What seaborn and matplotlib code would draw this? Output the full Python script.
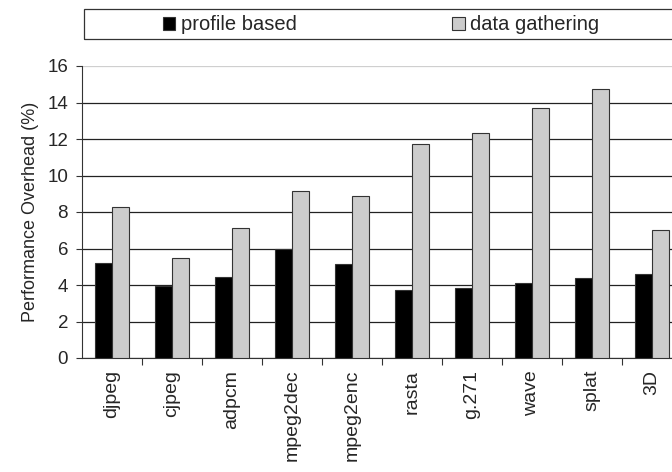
import matplotlib
matplotlib.use("Agg")
import matplotlib.pyplot as plt
import seaborn as sns
import pandas as pd
from matplotlib.patches import Rectangle
from matplotlib.ticker import FixedLocator

# benchmarks and the two overhead series (%)
benchmarks = ['djpeg', 'cjpeg', 'adpcm', 'mpeg2dec', 'mpeg2enc',
              'rasta', 'g.271', 'wave', 'splat', '3D']
profile_based = [5.21, 3.97, 4.43, 5.96, 5.14, 3.74, 3.81, 4.12, 4.41, 4.61]
data_gathering = [8.27, 5.49, 7.10, 9.13, 8.85, 11.72, 12.32, 13.68, 14.72, 7.03]
series_names = ['profile based', 'data gathering']
y_ticks = [0, 2, 4, 6, 8, 10, 12, 14, 16]

df = pd.DataFrame({
    'benchmark': benchmarks * 2,
    'overhead': profile_based + data_gathering,
    'series': [series_names[0]] * len(benchmarks) + [series_names[1]] * len(benchmarks),
})

sns.set_style("white")
plt.rcParams['font.family'] = ['Liberation Sans', 'DejaVu Sans']

fig = plt.figure(figsize=(6.72, 4.72), dpi=100)
ax = fig.add_axes([82 / 672, 1 - 358 / 472, 1 - 82 / 672, (358 - 66) / 472])

sns.barplot(data=df, x='benchmark', y='overhead', hue='series',
            order=benchmarks, hue_order=series_names,
            palette=['#000000', '#cccccc'], width=0.58, gap=0,
            edgecolor='#333333', linewidth=0.8, saturation=1, ax=ax, zorder=3)

ax.set_ylim(0, 16)
ax.set_xlim(-0.5, -0.5 + 590 / 60)
ax.set_yticks(y_ticks)
ax.yaxis.grid(True, color='#222222', linewidth=0.9, zorder=0)
ax.xaxis.grid(False)
ax.get_ygridlines()[-1].set_color('#cfcfcf')

for side in ['top', 'right']:
    ax.spines[side].set_visible(False)
ax.spines['left'].set_color('#333333')
ax.spines['bottom'].set_color('#333333')

ax.tick_params(axis='y', which='major', left=True, direction='out', length=4.5,
               width=0.8, color='#333333', labelsize=13.5, pad=5.5)
ax.tick_params(axis='x', which='major', bottom=False, labelsize=14, pad=5)
ax.set_xticks(range(len(benchmarks)))
ax.set_xticklabels(benchmarks, rotation=90)
ax.xaxis.set_minor_locator(FixedLocator([i + 0.5 for i in range(len(benchmarks))]))
ax.tick_params(axis='x', which='minor', bottom=True, direction='out', length=5,
               width=0.8, color='#333333')

ax.set_xlabel('')
ax.set_ylabel('Performance Overhead (%)', fontsize=13, labelpad=6)

handles, labels = ax.get_legend_handles_labels()
ax.get_legend().remove()
fig.add_artist(Rectangle((84 / 672, 1 - 39 / 472), 1.0, 30 / 472,
                         transform=fig.transFigure, fill=False,
                         edgecolor='#333333', linewidth=0.9))
fig.legend(handles, labels, ncol=2, loc='center left',
           bbox_to_anchor=(163 / 672, 1 - 25 / 472), fontsize=14.5,
           frameon=False, handlelength=0.62, handleheight=0.62,
           handletextpad=0.25, columnspacing=7.75, borderaxespad=0,
           borderpad=0)

fig.savefig('out.png', dpi=100)
